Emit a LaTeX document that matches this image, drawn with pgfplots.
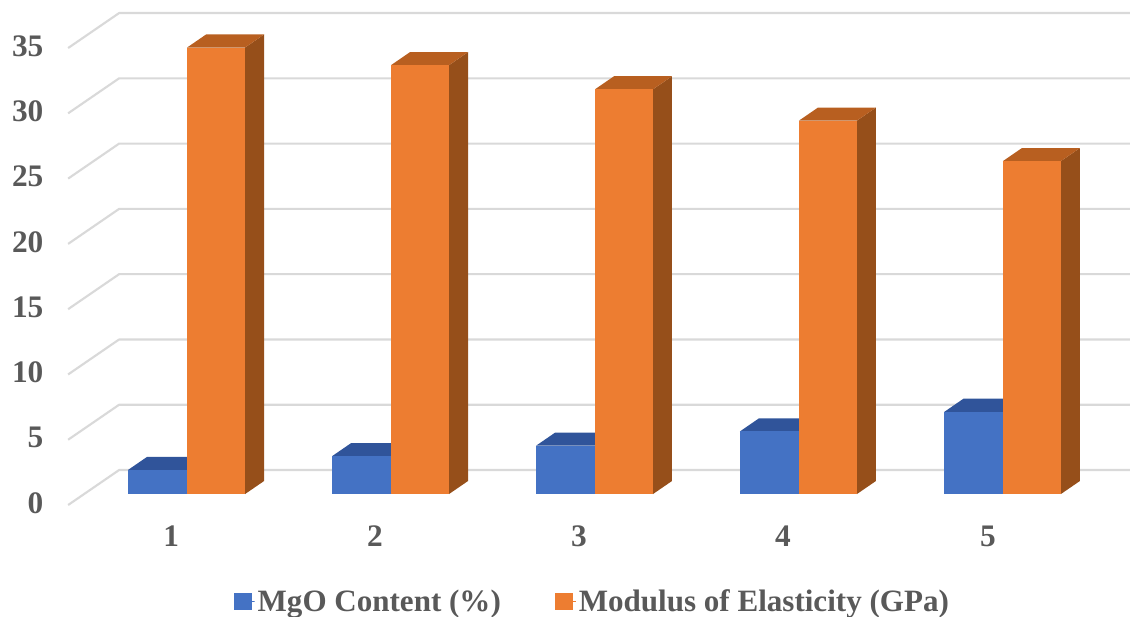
\documentclass[border=0pt]{standalone}
\usepackage{pgfplots}
\pgfplotsset{compat=1.18}
\usepackage{fontspec}
\setmainfont{Liberation Serif}
\definecolor{gridgray}{HTML}{D9D9D9}
\definecolor{labelgray}{HTML}{595959}
\definecolor{mgoface}{HTML}{4472C4}
\definecolor{mgotop}{HTML}{30549A}
\definecolor{modface}{HTML}{ED7D31}
\definecolor{modtop}{HTML}{B85F20}
\definecolor{modside}{HTML}{964F1A}

% Wall and floor rule for one gridline level
\newcommand{\gridlevel}[1]{%
  \addplot[gridgray, line width=1.6pt, line join=round] coordinates
    {(68,#1-0.84) (119,#1+1.84) (1135,#1+1.84)};}
% Blue bar: front face and top; the right side is hidden by its neighbour
\newcommand{\mgobar}[2]{%
  \addplot[draw=none, fill=mgotop] coordinates
    {(#1,#2) (#1+19,#2+1) (#1+78,#2+1) (#1+59,#2)} --cycle;
  \addplot[draw=none, fill=mgoface] coordinates
    {(#1,0) (#1+59,0) (#1+59,#2) (#1,#2)} --cycle;}
% Orange bar: side, top and front face
\newcommand{\modbar}[2]{%
  \addplot[draw=none, fill=modside] coordinates
    {(#1+58,0) (#1+77,1) (#1+77,#2+1) (#1+58,#2)} --cycle;
  \addplot[draw=none, fill=modtop] coordinates
    {(#1,#2) (#1+19,#2+1) (#1+77,#2+1) (#1+58,#2)} --cycle;
  \addplot[draw=none, fill=modface] coordinates
    {(#1,0) (#1+58,0) (#1+58,#2) (#1,#2)} --cycle;}

\begin{document}
\begin{tikzpicture}[x=1pt,y=1pt]
\begin{axis}[
  scale only axis,
  width=847.5pt, height=462pt,
  xmin=0, xmax=1130,
  ymin=-9.34, ymax=37.83,
  axis line style={draw=none},
  major tick length=0pt,
  clip=true,
  xtick={171,375,579,783,988},
  xticklabels={1,2,3,4,5},
  ytick={-0.69,4.31,9.31,14.31,19.31,24.31,29.31,34.31},
  yticklabels={0,5,10,15,20,25,30,35},
  tick label style={font=\fontsize{23.5}{26}\selectfont\bfseries, text=labelgray},
  xticklabel style={anchor=center, yshift=60pt},
  yticklabel style={anchor=east, xshift=36pt},
  legend columns=2,
  legend style={
    draw=none, fill=none,
    at={(0.5245,0.0235)}, anchor=center,
    font=\fontsize{23.3}{26}\selectfont\bfseries,
    text=labelgray,
    /tikz/every even column/.append style={column sep=38.5pt},
    inner xsep=0pt, inner ysep=0pt,
  },
  legend cell align=left,
  legend image code/.code={
    \path (0pt,0pt) rectangle (15.5pt,0pt);
    \fill[#1] (0pt,-5.5pt) rectangle (12.75pt,6pt);},
]
\addlegendimage{mgoface}
\addlegendimage{modface}
\legend{MgO Content (\%),Modulus of Elasticity (GPa)}

\gridlevel{0}\gridlevel{5}\gridlevel{10}\gridlevel{15}
\gridlevel{20}\gridlevel{25}\gridlevel{30}\gridlevel{35}

\mgobar{128}{1.85}  \modbar{187}{34.2}
\mgobar{332}{2.9}   \modbar{391}{32.85}
\mgobar{536}{3.7}   \modbar{595}{31.0}
\mgobar{740}{4.8}   \modbar{799}{28.6}
\mgobar{944.5}{6.3} \modbar{1003}{25.5}
\end{axis}
\end{tikzpicture}
\end{document}
